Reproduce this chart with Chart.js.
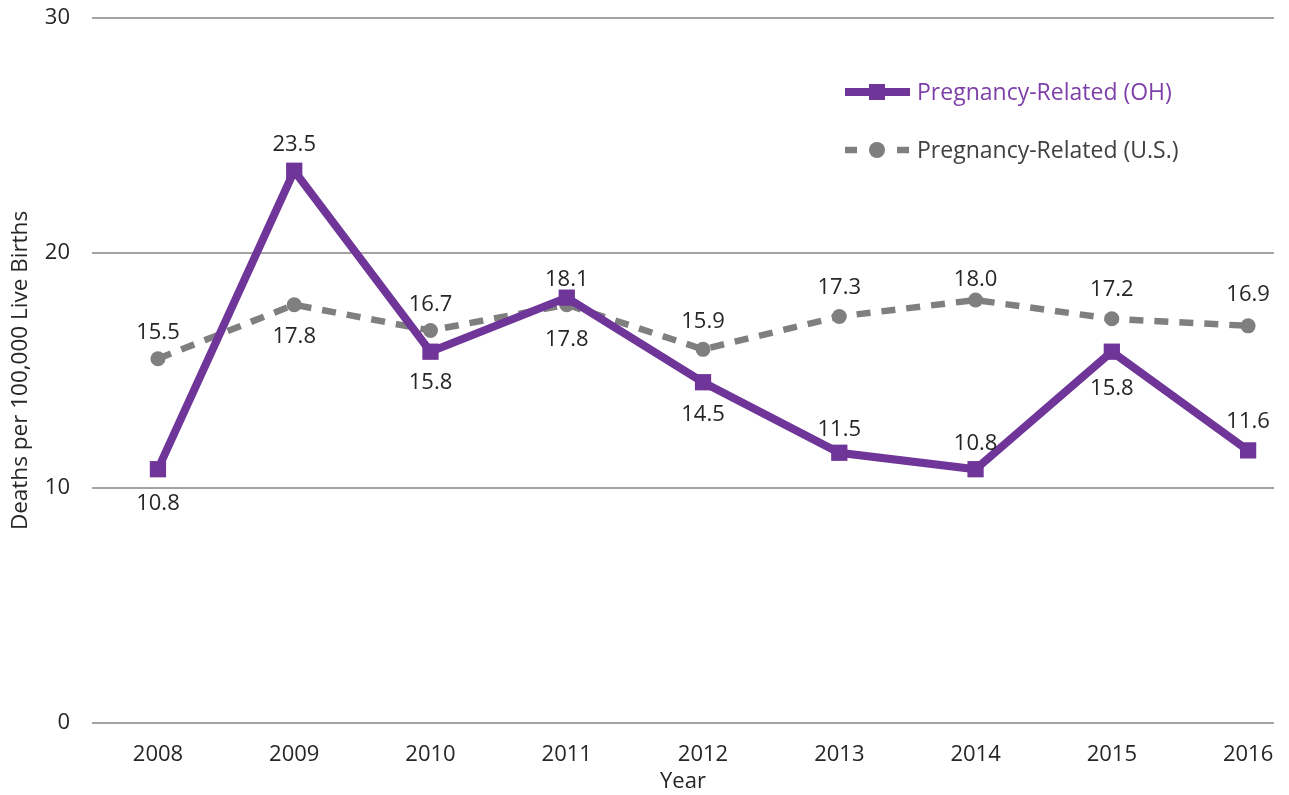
<!DOCTYPE html>
<html>
<head>
<meta charset="utf-8">
<title>Pregnancy-Related Mortality Ratio</title>
<script src="https://cdn.jsdelivr.net/npm/chart.js@4.4.1/dist/chart.umd.min.js"></script>
<style>
  html, body { margin: 0; padding: 0; background: #fff; overflow: hidden; }
</style>
</head>
<body>
<canvas id="ratio-chart" width="1289" height="795"></canvas>
<script>
const years = [2008, 2009, 2010, 2011, 2012, 2013, 2014, 2015, 2016];
const ohioRates = [10.8, 23.5, 15.8, 18.1, 14.5, 11.5, 10.8, 15.8, 11.6];
const usRates = [15.5, 17.8, 16.7, 17.8, 15.9, 17.3, 18.0, 17.2, 16.9];
const yTicks = [0, 10, 20, 30];

// vertical nudge of each value label from its point (negative = above)
const ohioLabelOffset = [33, -28, 29, -20, 31, -25, -27, 35, -30];
const usLabelOffset = [-28, 30, -28, 33, -29, -30, -22, -31, -33];

const FONT = '"Open Sans", sans-serif';
const TEXT = '#262626';
const PURPLE = '#6f3598';
const GRAY = '#7f7f80';

Chart.defaults.font.family = FONT;
Chart.defaults.color = TEXT;

// value labels next to each point
const valueLabels = {
    id: 'valueLabels',
    afterDatasetsDraw(chart) {
        const ctx = chart.ctx;
        ctx.save();
        ctx.font = '22px ' + FONT;
        ctx.fillStyle = TEXT;
        ctx.textAlign = 'center';
        ctx.textBaseline = 'alphabetic';
        chart.data.datasets.forEach((ds, i) => {
            chart.getDatasetMeta(i).data.forEach((pt, j) => {
                ctx.fillText(ds.data[j].y.toFixed(1), pt.x, pt.y + ds.labelOffset[j] + 8);
            });
        });
        ctx.restore();
    }
};

// legend drawn inside the plot, top right
const insideLegend = {
    id: 'insideLegend',
    afterDraw(chart) {
        const ctx = chart.ctx;
        const x0 = 845, x1 = 910, mid = 877;
        chart.data.datasets.forEach((ds, i) => {
            const y = 92 + i * 58;
            ctx.save();
            ctx.strokeStyle = ds.borderColor;
            ctx.lineWidth = ds.borderWidth;
            if (ds.borderDash) {
                ctx.setLineDash([12, 40]);
            }
            ctx.beginPath();
            ctx.moveTo(x0, y);
            ctx.lineTo(x1, y);
            ctx.stroke();
            ctx.setLineDash([]);
            ctx.fillStyle = ds.pointBackgroundColor;
            if (ds.pointStyle === 'rect') {
                ctx.fillRect(mid - 8, y - 8, 16, 16);
            } else {
                ctx.beginPath();
                ctx.arc(mid, y, 8, 0, Math.PI * 2);
                ctx.fill();
            }
            ctx.font = '23px ' + FONT;
            ctx.fillStyle = ds.legendColor;
            ctx.textAlign = 'left';
            ctx.textBaseline = 'alphabetic';
            ctx.fillText(ds.label, 917, y + 8);
            ctx.restore();
        });
    }
};

const ctx = document.getElementById('ratio-chart').getContext('2d');
const chart = new Chart(ctx, {
    type: 'line',
    data: {
        datasets: [{
            label: 'Pregnancy-Related (OH)',
            data: years.map((yr, i) => ({ x: yr, y: ohioRates[i] })),
            borderColor: PURPLE,
            borderWidth: 8,
            pointStyle: 'rect',
            pointRadius: 11.5,
            pointBorderWidth: 0,
            pointBackgroundColor: PURPLE,
            legendColor: '#7e3fa9',
            labelOffset: ohioLabelOffset,
            tension: 0,
            order: 1
        }, {
            label: 'Pregnancy-Related (U.S.)',
            data: years.map((yr, i) => ({ x: yr, y: usRates[i] })),
            borderColor: GRAY,
            borderWidth: 6.5,
            borderDash: [14, 11],
            pointStyle: 'circle',
            pointRadius: 7.5,
            pointBorderWidth: 0,
            pointBackgroundColor: GRAY,
            legendColor: '#404040',
            labelOffset: usLabelOffset,
            tension: 0,
            order: 2
        }]
    },
    options: {
        responsive: false,
        devicePixelRatio: 1,
        animation: false,
        layout: { padding: { top: 18, right: 15, left: 0, bottom: 0 } },
        plugins: {
            legend: { display: false },
            tooltip: { enabled: false }
        },
        scales: {
            x: {
                type: 'linear',
                min: 2007.516,
                max: 2016.19,
                afterBuildTicks(scale) {
                    scale.ticks = years.map(v => ({ value: v }));
                },
                ticks: {
                    padding: 11,
                    autoSkip: false,
                    maxRotation: 0,
                    color: TEXT,
                    font: { size: 22 },
                    callback: v => String(v)
                },
                grid: { display: false },
                border: { display: false },
                title: {
                    display: true,
                    text: 'Year',
                    color: TEXT,
                    font: { size: 22 },
                    padding: { top: 0, bottom: 0 }
                },
                afterFit(scale) { scale.height = 72; }
            },
            y: {
                min: 0,
                max: 30,
                afterBuildTicks(scale) {
                    scale.ticks = yTicks.map(v => ({ value: v }));
                },
                ticks: {
                    padding: 0,
                    color: TEXT,
                    font: { size: 22 }
                },
                grid: {
                    color: '#a3a3a3',
                    lineWidth: 2,
                    drawTicks: true,
                    tickLength: 22,
                    tickColor: 'rgba(0,0,0,0)'
                },
                border: { display: false },
                title: {
                    display: true,
                    text: 'Deaths per 100,000 Live Births',
                    color: TEXT,
                    font: { size: 22.5 },
                    padding: { top: 7, bottom: 0 }
                },
                afterFit(scale) { scale.width = 92; }
            }
        }
    },
    plugins: [valueLabels, insideLegend]
});
</script>
</body>
</html>
